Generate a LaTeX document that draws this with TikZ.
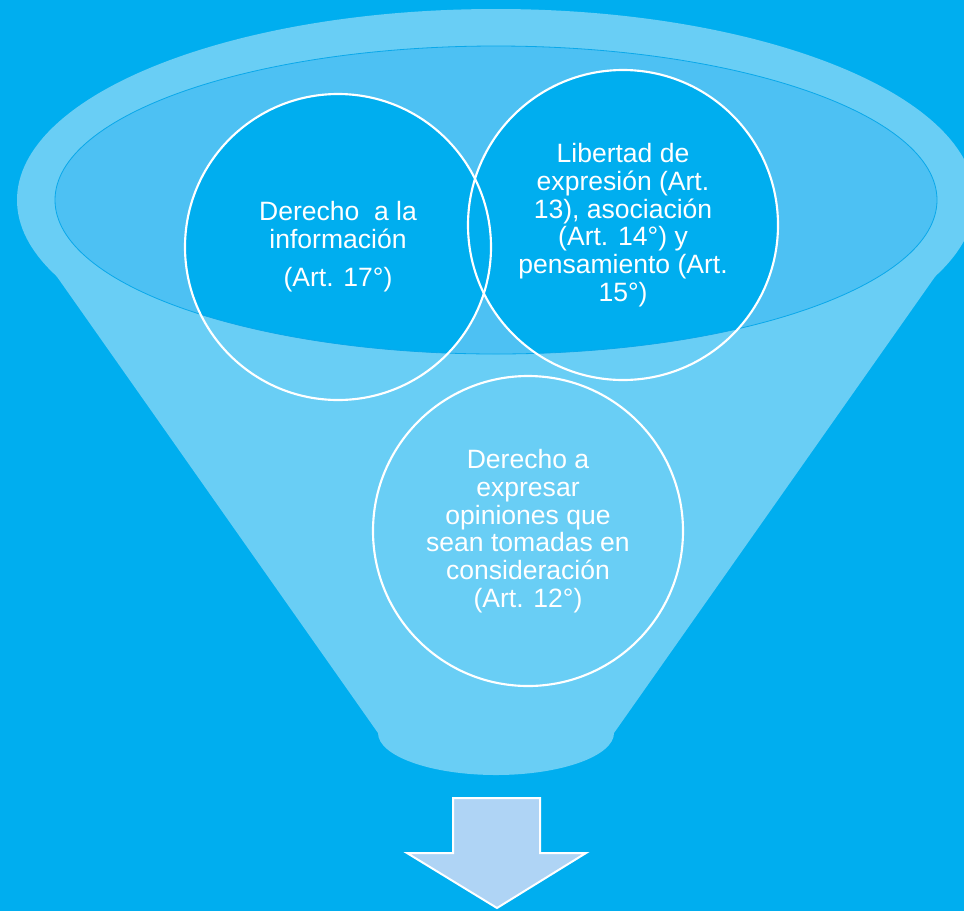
\documentclass[tikz,border=0pt]{standalone}
\usepackage{fontspec}
\setmainfont{Liberation Sans}
\definecolor{bgblue}{HTML}{00AEEF}
\definecolor{funnellight}{HTML}{69CEF5}
\definecolor{funnelmid}{HTML}{4DC1F3}
\definecolor{rimline}{HTML}{0AA8EA}
\definecolor{arrowfill}{HTML}{AFD4F5}
\tikzset{
  ring/.style={circle, draw=white, line width=1.6pt, align=center, text=white,
    font=\fontsize{19.9pt}{20.8pt}\selectfont, inner sep=2pt},
}
\begin{document}
\begin{tikzpicture}[x=0.75pt,y=-0.75pt]
\useasboundingbox (0,0) rectangle (964,911);
\clip (0,0) rectangle (964,911);
\fill[bgblue] (0,0) rectangle (964,911);
% funnel body
\fill[funnellight] (496,200) ellipse [x radius=359.25pt, y radius=143.25pt];
\fill[funnellight] (22,227) -- (378,733)
  .. controls (378,756) and (431,775) .. (496,775)
  .. controls (561,775) and (614,756) .. (614,733)
  -- (970,227) -- cycle;
% inner rim
\fill[funnelmid] (496,200) ellipse [x radius=330.75pt, y radius=115.5pt];
\begin{scope}
  \clip (496,200) ellipse [x radius=330.75pt, y radius=115.5pt];
  \fill[bgblue] (338,247) circle [radius=114.75pt];
  \fill[bgblue] (623,225) circle [radius=116.25pt];
\end{scope}
\draw[rimline, line width=0.6pt] (496,200) ellipse [x radius=330.75pt, y radius=115.5pt];
% circles
\node[ring, minimum size=229.5pt] (c1) at (338,247) {Derecho\ \ a la\\información\\[8pt](Art. 17°)};
\node[ring, minimum size=232.5pt] (c2) at (623,225) {Libertad de\\expresión (Art.\\13), asociación\\(Art. 14°) y\\pensamiento (Art.\\15°)};
\node[ring, minimum size=232.5pt] (c3) at (528,531) {Derecho a\\expresar\\opiniones que\\sean tomadas en\\consideración\\(Art. 12°)};
% arrow
\draw[white, line width=1.5pt, fill=arrowfill, line join=miter]
  (453,798) -- (540,798) -- (540,853) -- (586,853) -- (497,908) -- (407,853) -- (453,853) -- cycle;
\end{tikzpicture}
\end{document}
